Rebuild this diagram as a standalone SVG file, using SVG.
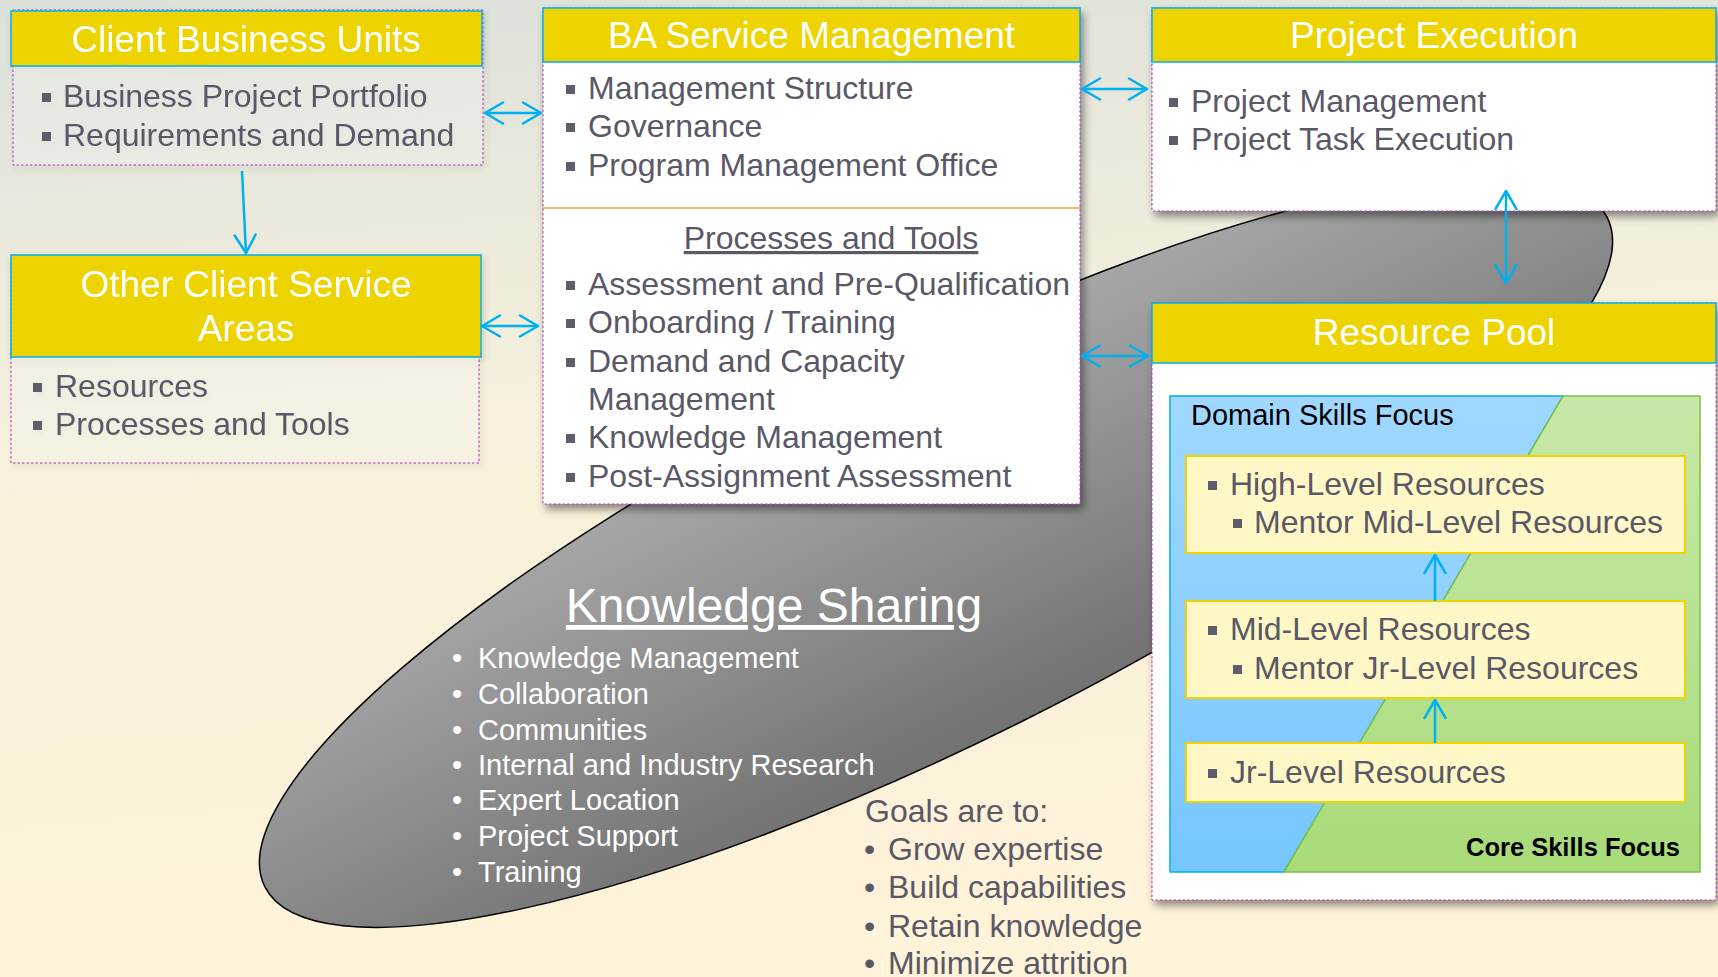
<svg xmlns="http://www.w3.org/2000/svg" width="1718" height="977" viewBox="0 0 1718 977">
<defs>
  <linearGradient id="bg" x1="0" y1="0" x2="0.15" y2="1">
    <stop offset="0" stop-color="#DBE0DA"/>
    <stop offset="0.45" stop-color="#F6F0DC"/>
    <stop offset="1" stop-color="#FFF3D9"/>
  </linearGradient>
  <linearGradient id="ellGrad" x1="0" y1="0" x2="0" y2="1">
    <stop offset="0" stop-color="#A8A8A8"/>
    <stop offset="1" stop-color="#727272"/>
  </linearGradient>
  <linearGradient id="blueGrad" x1="0" y1="0" x2="0" y2="1">
    <stop offset="0" stop-color="#A0D8FF"/>
    <stop offset="1" stop-color="#76C6FF"/>
  </linearGradient>
  <linearGradient id="greenGrad" x1="0" y1="0" x2="0" y2="1">
    <stop offset="0" stop-color="#C8E7A9"/>
    <stop offset="1" stop-color="#A8DB78"/>
  </linearGradient>
  <filter id="shadow" x="-5%" y="-5%" width="115%" height="120%">
    <feDropShadow dx="3" dy="5" stdDeviation="4" flood-color="#000" flood-opacity="0.45"/>
  </filter>
  <filter id="shadowLight" x="-5%" y="-5%" width="115%" height="120%">
    <feDropShadow dx="2" dy="3" stdDeviation="3" flood-color="#000" flood-opacity="0.15"/>
  </filter>
  <marker id="ah" markerUnits="userSpaceOnUse" markerWidth="26" markerHeight="26" viewBox="0 0 26 26" refX="21" refY="13" orient="auto-start-reverse">
    <path d="M3,2.5 L21,13 L3,23.5" fill="none" stroke="#00B0F0" stroke-width="2.5" stroke-linecap="round" stroke-linejoin="round"/>
  </marker>
  <style>
    text { font-family: "Liberation Sans", Arial, sans-serif; }
    .hdr { fill: #EDD400; stroke: #00B0F0; stroke-width: 1.5; }
    .body { fill: #FFFFFF; stroke: #A23BB5; stroke-width: 1; stroke-dasharray: 2.5 2; }
    .bodyT { fill: #FFFFFF; fill-opacity: 0.28; stroke: #A23BB5; stroke-width: 1; stroke-dasharray: 2.5 2; }
    .title { fill: #FFFFFF; font-size: 37px; text-anchor: middle; }
    .item { fill: #5A5867; font-size: 32px; }
    .sq { fill: #5E5D69; }
    .ks { fill: #FFFFFF; font-size: 29px; }
    .goal { fill: #5A5867; font-size: 32px; }
    .ybox { fill: #FFF7C6; stroke: #EFD400; stroke-width: 2; }
    .conn { fill: none; stroke: #00B0F0; stroke-width: 2.5; }
  </style>
</defs>

<rect x="0" y="0" width="1718" height="977" fill="url(#bg)"/>

<g id="knowledge-sharing">
  <ellipse cx="936" cy="552" rx="750" ry="190" transform="rotate(-26.5 936 552)" fill="url(#ellGrad)" stroke="#000" stroke-width="1.5"/>
  <text x="774" y="622" fill="#FFFFFF" font-size="48" text-anchor="middle" text-decoration="underline">Knowledge Sharing</text>
  <g class="ks">
    <text x="452" y="668">•</text><text x="478" y="668">Knowledge Management</text>
    <text x="452" y="704">•</text><text x="478" y="704">Collaboration</text>
    <text x="452" y="740">•</text><text x="478" y="740">Communities</text>
    <text x="452" y="775">•</text><text x="478" y="775">Internal and Industry Research</text>
    <text x="452" y="810">•</text><text x="478" y="810">Expert Location</text>
    <text x="452" y="846">•</text><text x="478" y="846">Project Support</text>
    <text x="452" y="882">•</text><text x="478" y="882">Training</text>
  </g>
</g>

<g id="goals" class="goal">
  <text x="865" y="822">Goals are to:</text>
  <text x="864" y="860">•</text><text x="888" y="860">Grow expertise</text>
  <text x="864" y="898">•</text><text x="888" y="898">Build capabilities</text>
  <text x="864" y="937">•</text><text x="888" y="937">Retain knowledge</text>
  <text x="864" y="974">•</text><text x="888" y="974">Minimize attrition</text>
</g>

<g id="client-business-units" filter="url(#shadowLight)">
  <rect class="bodyT" x="13" y="10" width="470" height="155"/>
  <rect class="hdr" x="11" y="11" width="471" height="55"/>
  <text class="title" x="246" y="52">Client Business Units</text>
  <rect class="sq" x="42" y="93" width="9" height="9"/>
  <text class="item" x="63" y="107">Business Project Portfolio</text>
  <rect class="sq" x="42" y="132" width="9" height="9"/>
  <text class="item" x="63" y="146">Requirements and Demand</text>
</g>

<g id="other-client-service-areas" filter="url(#shadowLight)">
  <rect class="bodyT" x="11" y="256" width="468" height="207"/>
  <rect class="hdr" x="11" y="255" width="470" height="102"/>
  <text class="title" x="246" y="297">Other Client Service</text>
  <text class="title" x="246" y="341">Areas</text>
  <rect class="sq" x="33" y="383" width="9" height="9"/>
  <text class="item" x="55" y="397">Resources</text>
  <rect class="sq" x="33" y="421" width="9" height="9"/>
  <text class="item" x="55" y="435">Processes and Tools</text>
</g>

<g id="ba-service-management">
  <rect class="body" x="543" y="8" width="537" height="496" filter="url(#shadow)"/>
  <rect class="hdr" x="543" y="8" width="537" height="54"/>
  <text class="title" x="811.5" y="48">BA Service Management</text>
  <rect class="sq" x="566" y="85" width="9" height="9"/>
  <text class="item" x="588" y="99">Management Structure</text>
  <rect class="sq" x="566" y="123" width="9" height="9"/>
  <text class="item" x="588" y="137">Governance</text>
  <rect class="sq" x="566" y="162" width="9" height="9"/>
  <text class="item" x="588" y="176">Program Management Office</text>
  <line x1="543" y1="208" x2="1080" y2="208" stroke="#F2A33A" stroke-width="1.5"/>
  <text class="item" x="831" y="249" text-anchor="middle" text-decoration="underline">Processes and Tools</text>
  <rect class="sq" x="566" y="281" width="9" height="9"/>
  <text class="item" x="588" y="295">Assessment and Pre-Qualification</text>
  <rect class="sq" x="566" y="319" width="9" height="9"/>
  <text class="item" x="588" y="333">Onboarding / Training</text>
  <rect class="sq" x="566" y="358" width="9" height="9"/>
  <text class="item" x="588" y="372">Demand and Capacity</text>
  <text class="item" x="588" y="410">Management</text>
  <rect class="sq" x="566" y="434" width="9" height="9"/>
  <text class="item" x="588" y="448">Knowledge Management</text>
  <rect class="sq" x="566" y="473" width="9" height="9"/>
  <text class="item" x="588" y="487">Post-Assignment Assessment</text>
</g>

<g id="project-execution">
  <rect class="body" x="1152" y="8" width="564" height="203" filter="url(#shadow)"/>
  <rect class="hdr" x="1152" y="8" width="564" height="54"/>
  <text class="title" x="1434" y="48">Project Execution</text>
  <rect class="sq" x="1169" y="98" width="9" height="9"/>
  <text class="item" x="1191" y="112">Project Management</text>
  <rect class="sq" x="1169" y="136" width="9" height="9"/>
  <text class="item" x="1191" y="150">Project Task Execution</text>
</g>

<g id="resource-pool">
  <rect class="body" x="1152" y="303" width="564" height="597" filter="url(#shadow)"/>
  <rect class="hdr" x="1152" y="303" width="564" height="60"/>
  <text class="title" x="1434" y="345">Resource Pool</text>
  <g id="skills-focus">
    <polygon points="1170,396 1563,396 1284,872 1170,872" fill="url(#blueGrad)" stroke="#00B0F0" stroke-width="1.5"/>
    <polygon points="1563,396 1700,396 1700,872 1284,872" fill="url(#greenGrad)" stroke="#7CC242" stroke-width="1.5"/>
    <text x="1191" y="425" fill="#000" font-size="29">Domain Skills Focus</text>
    <text x="1680" y="856" fill="#000" font-size="25.5" font-weight="bold" text-anchor="end">Core Skills Focus</text>
  </g>
  <g id="high-level">
    <rect class="ybox" x="1186" y="456" width="499" height="97"/>
    <rect class="sq" x="1208" y="481" width="9" height="9"/>
    <text class="item" x="1230" y="495">High-Level Resources</text>
    <rect class="sq" x="1233" y="519" width="9" height="9"/>
    <text class="item" x="1254" y="533">Mentor Mid-Level Resources</text>
  </g>
  <g id="mid-level">
    <rect class="ybox" x="1186" y="601" width="499" height="97"/>
    <rect class="sq" x="1208" y="626" width="9" height="9"/>
    <text class="item" x="1230" y="640">Mid-Level Resources</text>
    <rect class="sq" x="1233" y="665" width="9" height="9"/>
    <text class="item" x="1254" y="679">Mentor Jr-Level Resources</text>
  </g>
  <g id="jr-level">
    <rect class="ybox" x="1186" y="743" width="499" height="59"/>
    <rect class="sq" x="1208" y="769" width="9" height="9"/>
    <text class="item" x="1230" y="783">Jr-Level Resources</text>
  </g>
</g>

<g id="connectors" class="conn">
  <line x1="242" y1="171" x2="246" y2="253" marker-end="url(#ah)"/>
  <line x1="485" y1="113" x2="541" y2="113" marker-start="url(#ah)" marker-end="url(#ah)"/>
  <line x1="482" y1="326" x2="538" y2="326" marker-start="url(#ah)" marker-end="url(#ah)"/>
  <line x1="1082" y1="89" x2="1147" y2="89" marker-start="url(#ah)" marker-end="url(#ah)"/>
  <line x1="1082" y1="356" x2="1148" y2="356" marker-start="url(#ah)" marker-end="url(#ah)"/>
  <line x1="1506" y1="191" x2="1506" y2="283" marker-start="url(#ah)" marker-end="url(#ah)"/>
  <line x1="1435" y1="743" x2="1435" y2="700" marker-end="url(#ah)"/>
  <line x1="1435" y1="601" x2="1435" y2="555" marker-end="url(#ah)"/>
</g>
</svg>
